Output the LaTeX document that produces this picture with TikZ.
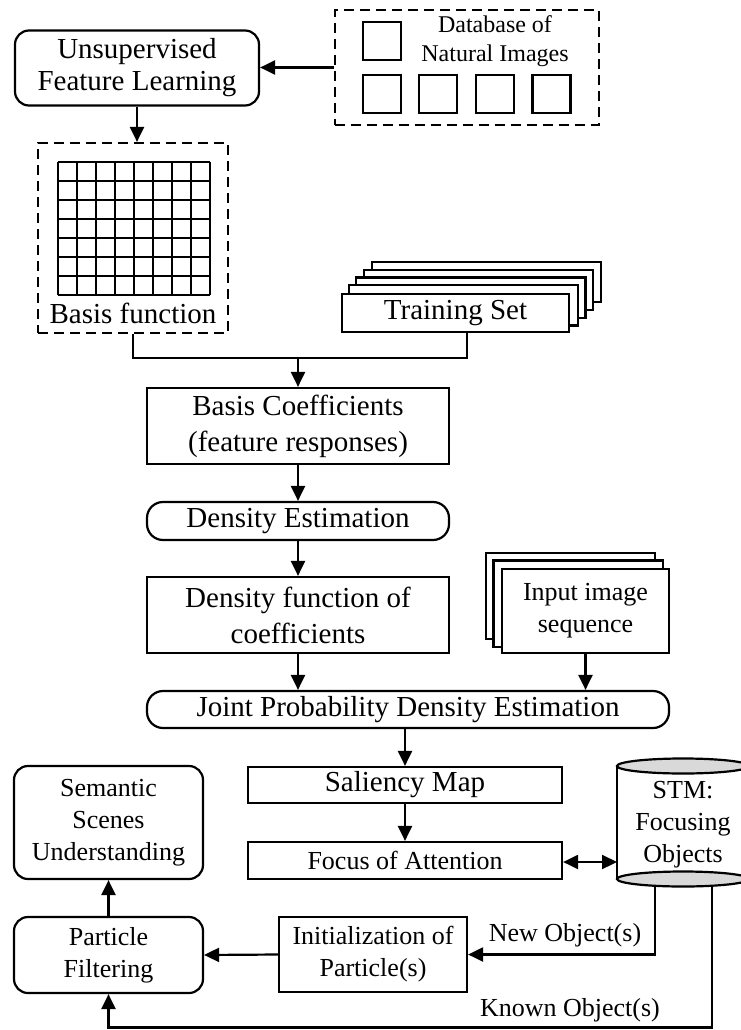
\documentclass[tikz,border=0pt]{standalone}
\usepackage{fontspec}
\setmainfont{Liberation Serif}
\usetikzlibrary{arrows.meta,backgrounds,calc}
\definecolor{capgray}{HTML}{D9D9D9}
\begin{document}
\begin{tikzpicture}[x=1pt,y=-1pt,
  ln/.style={draw=black,line width=2.2pt},
  big/.style={font=\fontsize{29}{36}\selectfont},
  med/.style={font=\fontsize{26}{32}\selectfont},
  sml/.style={font=\fontsize{24}{29}\selectfont},
  box/.style={ln,fill=white,align=center,inner sep=0pt},
  rbox/.style={box,rounded corners=14pt},
  dbox/.style={ln,dash pattern=on 10pt off 6pt,inner sep=0pt},
  sq/.style={ln,minimum width=38pt,minimum height=38pt,inner sep=0pt},
  gridline/.style={draw=black,line width=2pt},
  arr/.style={ln,-{Triangle[length=15pt,width=14pt]}},
  darr/.style={ln,{Triangle[length=15pt,width=14pt]}-{Triangle[length=15pt,width=14pt]}}]

\path[use as bounding box,clip] (0,0) rectangle (741,1030);

% --- top: feature learning from a database of images
\node[rbox,font=\fontsize{29}{32}\selectfont,minimum width=244pt,minimum height=75pt] (ufl) at (137,68) {Unsupervised\\Feature Learning};
\node[dbox,minimum width=264pt,minimum height=115pt] (db) at (467,67.5) {};
\node[sml,align=center] (dbtext) at (495,41) {Database of\\Natural Images};
\node[sq] (sq0) at (382,41) {};
\node[sq] (sq1) at (382,94) {};
\node[sq] (sq2) at (438,94) {};
\node[sq] (sq3) at (495,94) {};
\node[sq] (sq4) at (551.5,94) {};

% --- basis function patch
\node[dbox,minimum width=190pt,minimum height=190pt] (basis) at (133,238) {};
\foreach \i in {0,...,8} \draw[gridline] (58+19*\i,162) -- (58+19*\i,295);
\foreach \j in {0,...,7} \draw[gridline] (58,162+19*\j) -- (210,162+19*\j);
\node[big] (basistext) at (133,313) {Basis function};

% --- stacked training set
\node[box,big,minimum width=227pt,minimum height=38pt] (train) at (455.5,313) {Training Set};
\begin{pgfonlayer}{background}
  \foreach \k in {4,3,2,1}
    \draw[ln,fill=white] ($(train.south west)+(7.7*\k,-7.7*\k)$) rectangle ($(train.north east)+(7.7*\k,-7.7*\k)$);
\end{pgfonlayer}

% --- density chain
\node[box,big,minimum width=302pt,minimum height=76pt] (bc) at (298,426) {Basis Coefficients\\(feature responses)};
\node[rbox,big,rounded corners=16pt,minimum width=302pt,minimum height=38pt] (de) at (298,521) {Density Estimation};
\node[box,big,minimum width=302pt,minimum height=76pt] (df) at (298,615) {Density function of\\coefficients};
\node[box,med,minimum width=167pt,minimum height=84pt] (input) at (585.5,611) {Input image\\sequence};
\begin{pgfonlayer}{background}
  \foreach \k in {2,1}
    \draw[ln,fill=white] ($(input.south west)+(-7.5*\k,-7.5*\k)$) rectangle ($(input.north east)+(-7.5*\k,-7.5*\k)$);
\end{pgfonlayer}
\node[rbox,big,rounded corners=16pt,minimum width=522pt,minimum height=37pt] (jp) at (408,709.5) {Joint Probability Density Estimation};

% --- attention
\node[box,big,minimum width=314pt,minimum height=36pt] (sal) at (405,785) {Saliency Map};
\node[box,med,minimum width=314pt,minimum height=37pt] (foa) at (405,860.5) {Focus of Attention};

% --- short-term memory cylinder
\path[fill=white] (617,766) rectangle (749,879);
\draw[ln] (617,766) -- (617,879);
\draw[ln] (749,766) -- (749,879);
\draw[ln,fill=capgray] (683,766) ellipse [x radius=66pt, y radius=7.5pt];
\draw[ln,fill=capgray] (683,879) ellipse [x radius=66pt, y radius=7.5pt];
\node[med,align=center,inner sep=0pt] (stm) at (683,825) {STM:\\Focusing\\Objects};
\coordinate (stmwest) at (617,862);
\coordinate (stmnew) at (655,886.5);
\coordinate (stmknown) at (712,886.5);
\coordinate (kcorner) at (712,1027.5);

% --- tracking
\node[rbox,med,minimum width=189pt,minimum height=76pt] (pf) at (108.5,955) {Particle\\Filtering};
\node[rbox,med,minimum width=189pt,minimum height=113pt] (ssu) at (108.5,822.5) {Semantic\\Scenes\\Understanding};
\node[box,med,minimum width=188pt,minimum height=75pt] (init) at (373,954.5) {Initialization of\\Particle(s)};

% --- connectors
\draw[arr] (db.west) -- (db.west -| ufl.east);
\draw[arr] (ufl.south) -- (ufl.south |- basis.north);
\coordinate (merge) at (298,358);
\coordinate (trainout) at (467,332);
\draw[ln] (basis.south) |- (merge) -| (trainout);
\draw[arr] (merge) -- (bc.north);
\draw[arr] (bc.south) -- (de.north);
\draw[arr] (de.south) -- (df.north);
\draw[arr] (df.south) -- (df.south |- jp.north);
\draw[arr] (input.south) -- (input.south |- jp.north);
\draw[arr] (sal.north |- jp.south) -- (sal.north);
\draw[arr] (sal.south) -- (foa.north);
\draw[darr] (foa.east |- stmwest) -- (stmwest);
\draw[arr] (stmnew) |- (init.east);
\node[med] (newlbl) at (565,935) {New Object(s)};
\draw[arr] (stmknown) -- (kcorner) -| (pf.south);
\node[med] (knownlbl) at (570,1010) {Known Object(s)};
\draw[arr] (init.west) -- (pf.east);
\draw[arr] (pf.north) -- (ssu.south);
\end{tikzpicture}
\end{document}
